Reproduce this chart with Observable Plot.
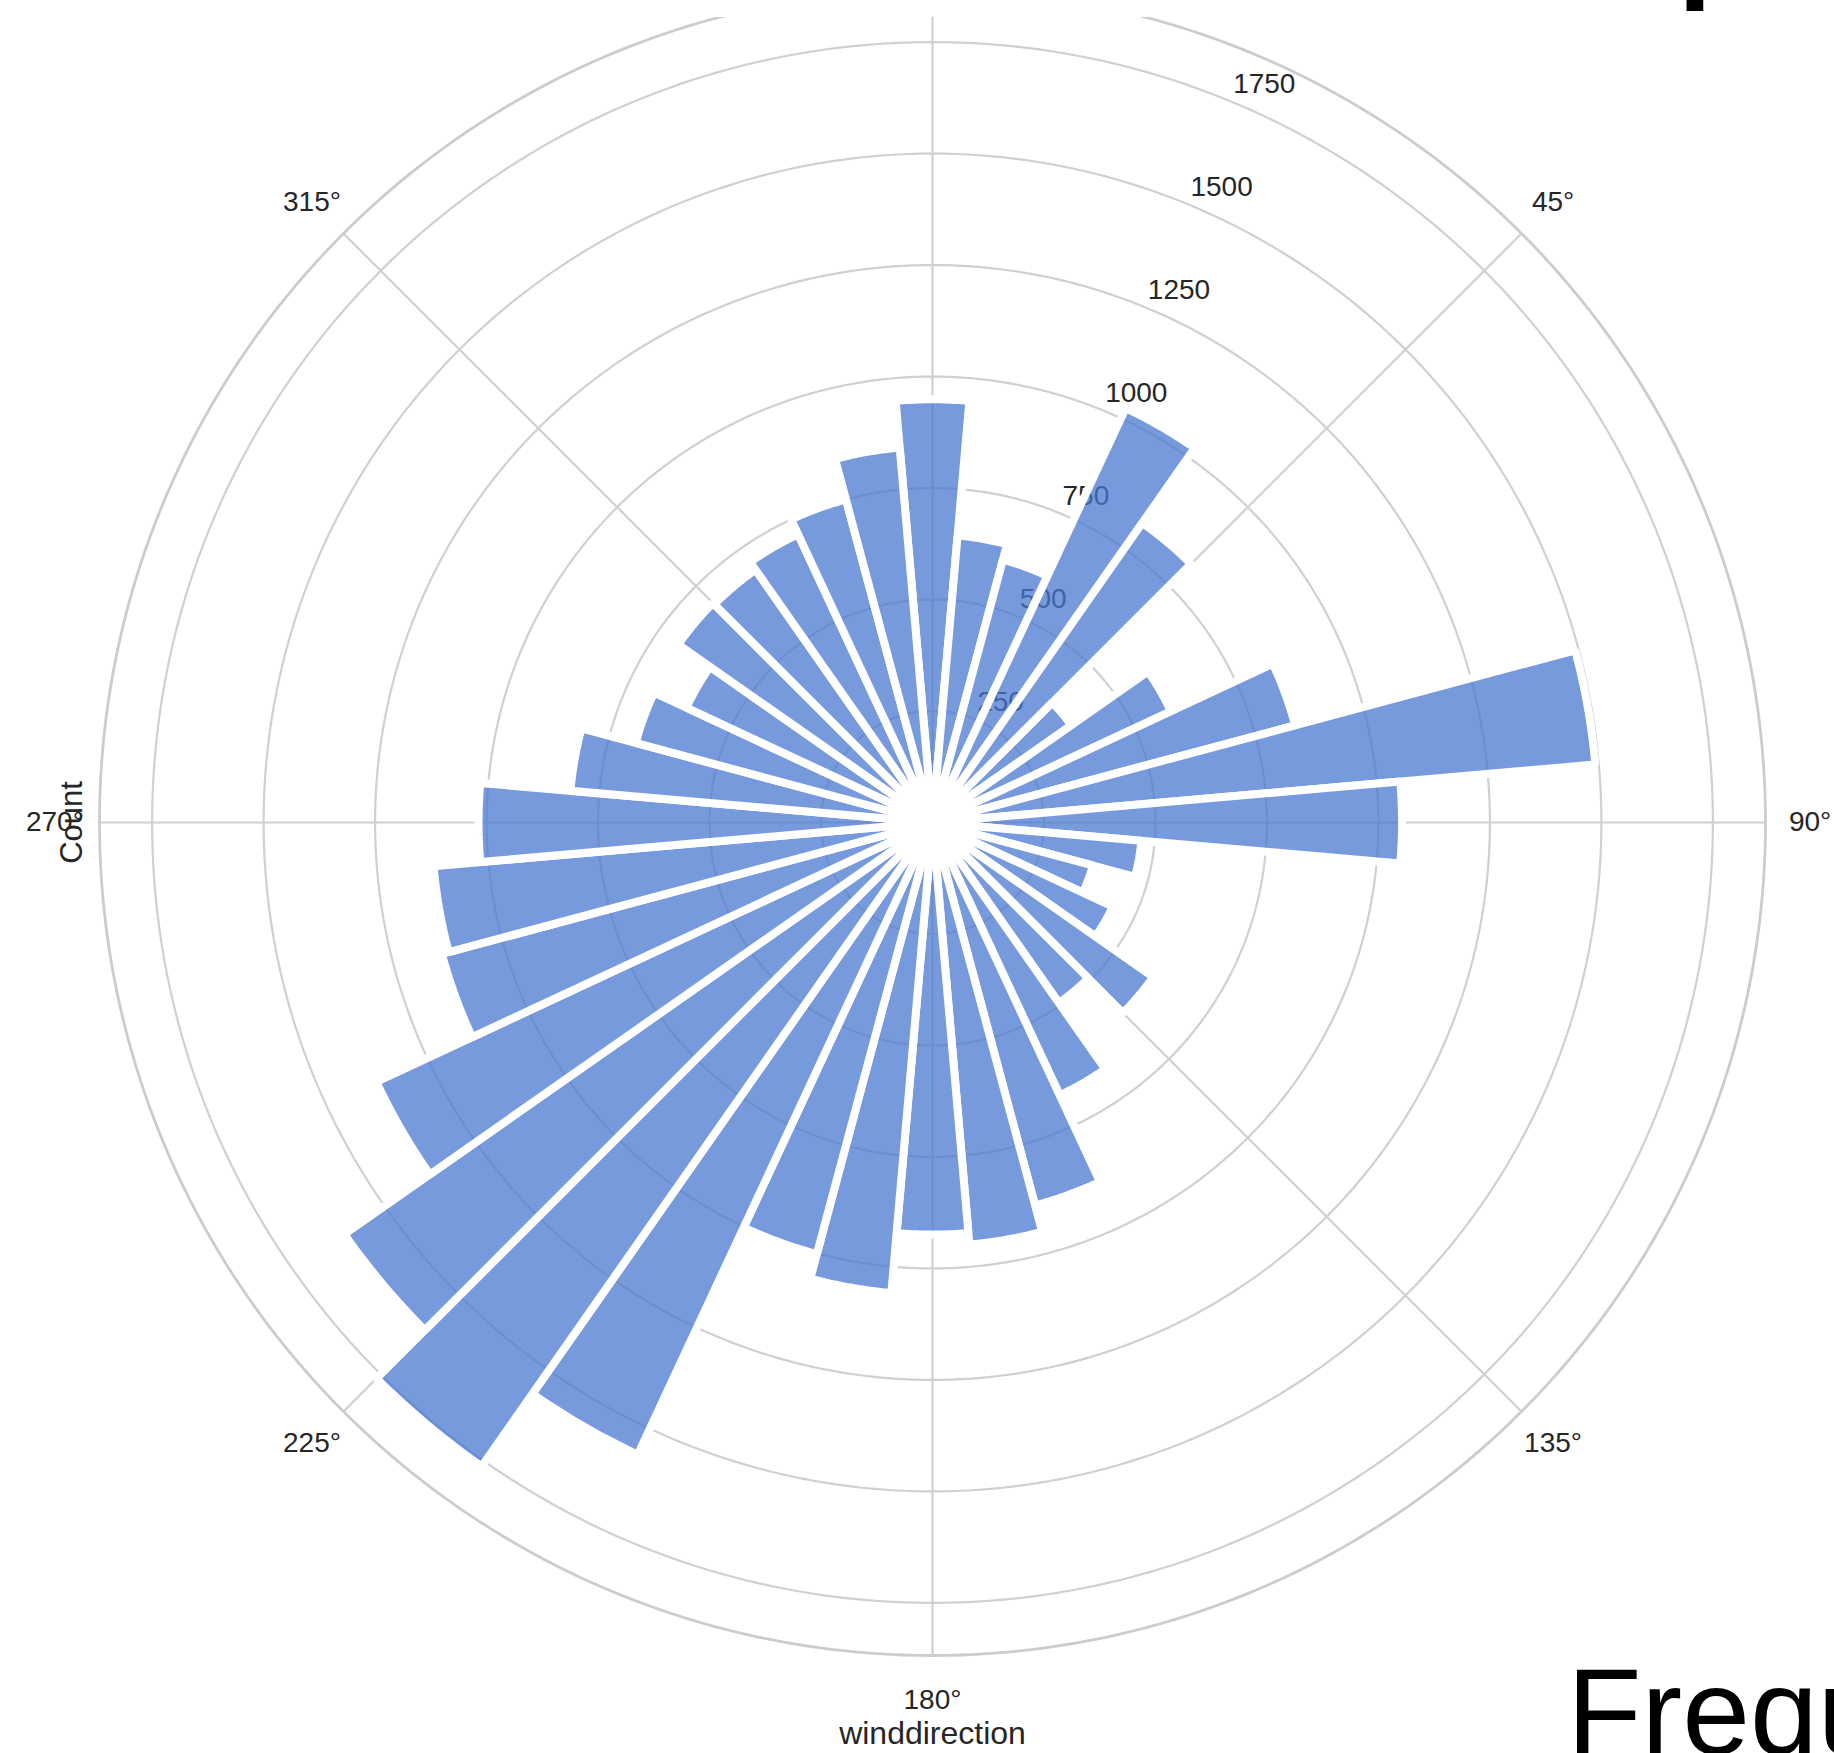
<!DOCTYPE html>
<html>
<head>
<meta charset="utf-8">
<script src="https://cdn.jsdelivr.net/npm/d3@7"></script>
<script src="https://cdn.jsdelivr.net/npm/@observablehq/plot@0.6"></script>
<style>
html, body { margin: 0; padding: 0; overflow: hidden; background: #fff; }
#wrap { position: relative; width: 1834px; height: 1753px; overflow: hidden; }
#overlay { position: absolute; left: 0; top: 0; pointer-events: none; }
</style>
</head>
<body>
<div id="wrap"></div>
<script>
// ---- data ----
const directions = [0,10,20,30,40,50,60,70,80,90,100,110,120,130,140,150,160,170,
                    180,190,200,210,220,230,240,250,260,270,280,290,300,310,320,330,340,350];
const counts = [949,646,610,1025,820,380,590,842,1492,1053,470,372,446,604,494,675,889,950,
                924,1059,1002,1564,1763,1610,1376,1139,1123,1018,815,689,609,696,692,713,750,844];
const radialTicks = [250,500,750,1000,1250,1500,1750];
const angleTicks = [0,45,90,135,180,225,270,315];
const angleTickLabels = ["0°","45°","90°","135°","180°","225°","270°","315°"];
const rMax = 1868;
const xLabel = "winddirection";
const yLabel = "Count";

// ---- layout ----
const W = 1834, H = 1753, cx = 932, cy = 822;
const k = 833 / rMax; // px per unit
const rad = d => d * Math.PI / 180;
const px = (r, deg) => r * Math.sin(rad(deg));
const py = (r, deg) => r * Math.cos(rad(deg));

// circle samples for rings and the outer spine
const ringPts = [];
for (const r of [...radialTicks, rMax]) {
  for (let a = 0; a <= 360; a += 1) ringPts.push({ring: r, x: px(r, a), y: py(r, a), outer: r === rMax});
}
// wedge polygons for bars (width = 10°)
const wedgePts = [];
directions.forEach((d, i) => {
  const v = counts[i];
  wedgePts.push({bar: i, x: 0, y: 0});
  for (let a = d - 5; a <= d + 5 + 1e-9; a += 0.5) wedgePts.push({bar: i, x: px(v, a), y: py(v, a)});
  wedgePts.push({bar: i, x: 0, y: 0});
});
const spokes = angleTicks.map(a => ({x2: px(rMax, a), y2: py(rMax, a)}));
const rLabels = radialTicks.map(t => ({t, x: px(t, 22.5), y: py(t, 22.5)}));
const aLabelR = 1968;
const aLabels = angleTicks.map((a, i) => ({label: angleTickLabels[i], x: px(aLabelR, a), y: py(aLabelR, a)}));

const gridColor = "#d0d0d0";
const font = "'Liberation Sans', Arial, sans-serif";

const chart = Plot.plot({
  width: W, height: H,
  marginTop: 0, marginBottom: 0, marginLeft: 0, marginRight: 0,
  x: {domain: [-cx / k, (W - cx) / k], axis: null},
  y: {domain: [-(H - cy) / k, cy / k], axis: null},
  style: {fontFamily: font, background: "#fff", overflow: "visible"},
  marks: [
    Plot.line(ringPts.filter(d => !d.outer), {x: "x", y: "y", z: "ring", stroke: gridColor, strokeWidth: 2.2}),
    Plot.link(spokes, {x1: 0, y1: 0, x2: "x2", y2: "y2", stroke: gridColor, strokeWidth: 2.2}),
    Plot.line(ringPts.filter(d => d.outer), {x: "x", y: "y", z: "ring", stroke: "#cccccc", strokeWidth: 2.8}),
    Plot.text(rLabels, {x: "x", y: "y", text: d => String(d.t), textAnchor: "start", dx: 2, dy: -17, fontSize: 28, fill: "#262626"}),
    Plot.line(wedgePts, {x: "x", y: "y", z: "bar", fill: "#4878d0", fillOpacity: 0.75, stroke: "white", strokeWidth: 8, strokeLinejoin: "miter", curve: "linear"}),
    Plot.text(aLabels, {x: "x", y: "y", text: "label", fontSize: 28, fill: "#262626"}),
    Plot.text([xLabel], {x: 0, y: -(1733 - cy) / k, text: d => d, fontSize: 32, fill: "#262626"}),
    Plot.text([yLabel], {x: -(cx - 72) / k, y: 0, text: d => d, rotate: -90, fontSize: 31, fill: "#262626"})
  ]
});
document.getElementById("wrap").appendChild(chart);

// overlay: pieces of neighbouring text cut by the frame
const ov = d3.select("#wrap").append("svg").attr("id", "overlay").attr("width", W).attr("height", H);
ov.append("rect").attr("x", 0).attr("y", 0).attr("width", W).attr("height", 17).attr("fill", "#fff");
ov.append("text").attr("x", 1678).attr("y", -14).attr("font-family", font).attr("font-weight", "bold").attr("font-size", 122).attr("fill", "#000").text("p");
ov.append("text").attr("x", 1567).attr("y", 1754).attr("font-family", font).attr("font-size", 122).attr("fill", "#000").text("Frequency");
</script>
</body>
</html>
